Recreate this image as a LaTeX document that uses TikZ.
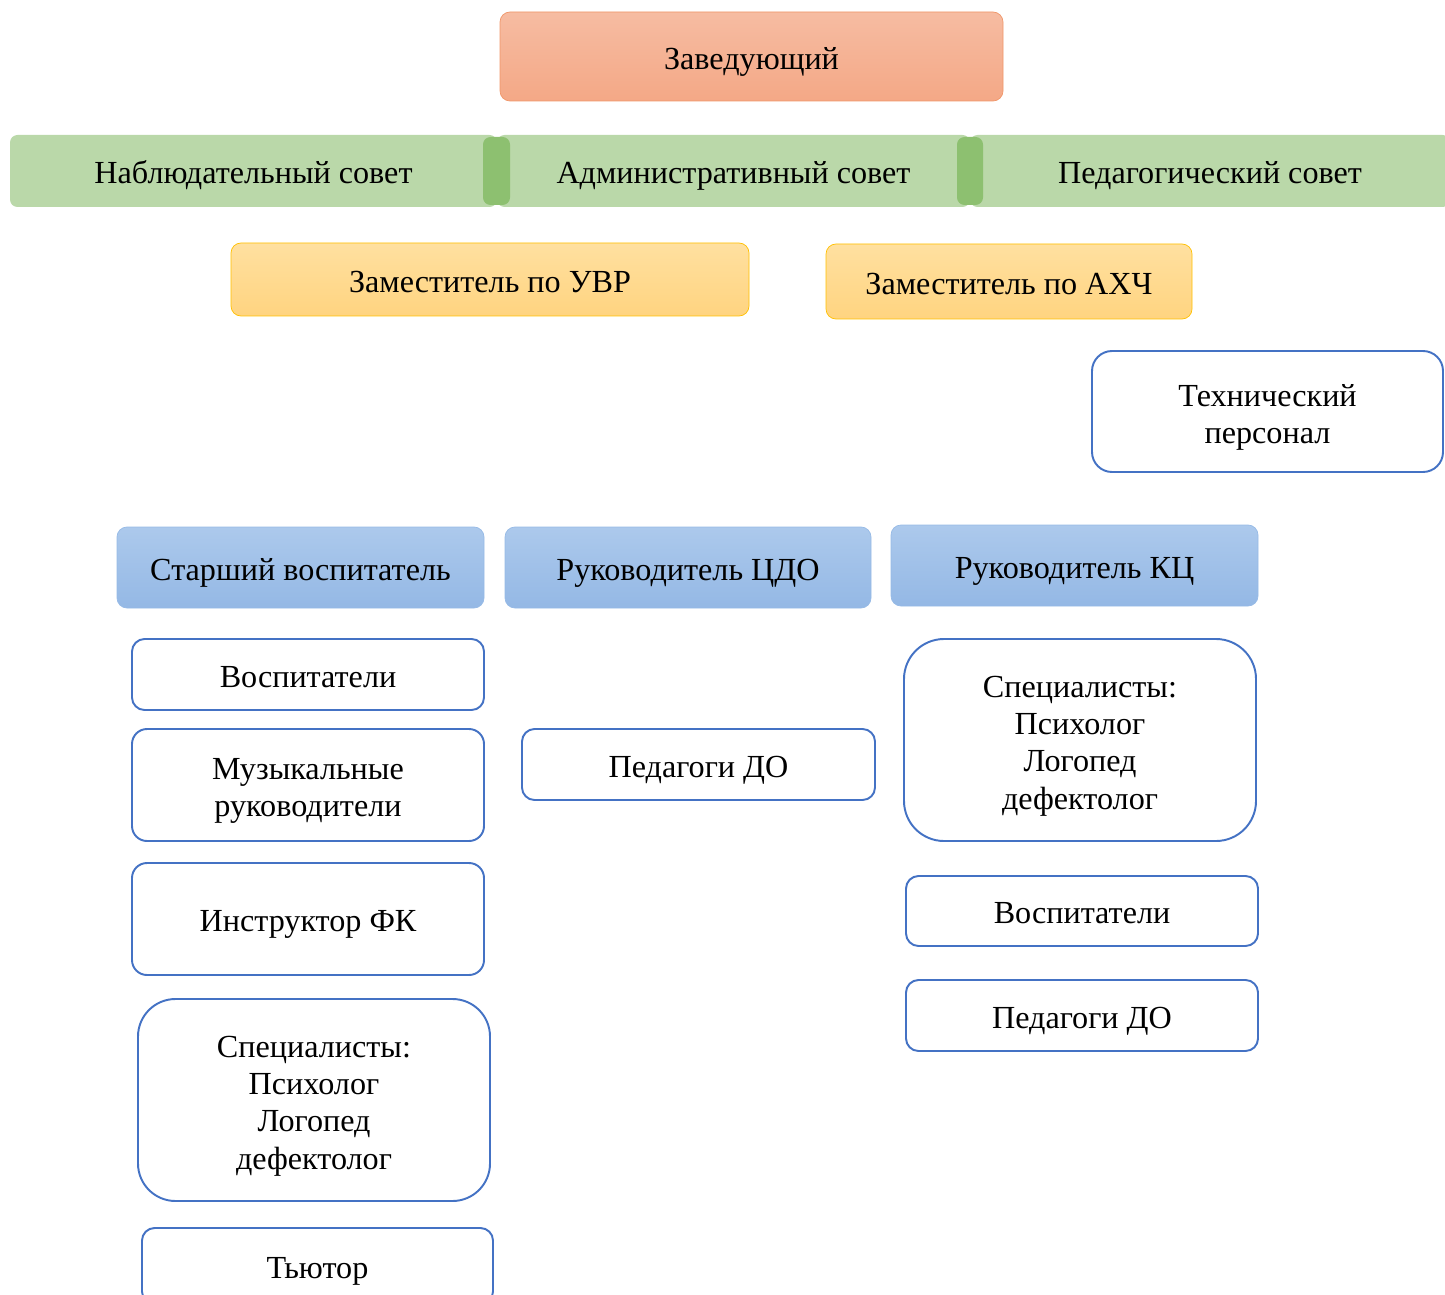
\documentclass[tikz,border=0pt]{standalone}
\usepackage{fontspec}
\setmainfont{Liberation Serif}
\usetikzlibrary{positioning}

\definecolor{zavfilltop}{RGB}{246,188,162}
\definecolor{zavfillbot}{RGB}{244,168,134}
\definecolor{zavline}{RGB}{240,150,105}
\definecolor{sovetfill}{RGB}{186,216,169}
\definecolor{sovetsep}{RGB}{141,192,112}
\definecolor{zamtop}{RGB}{255,224,160}
\definecolor{zambot}{RGB}{255,212,128}
\definecolor{zamline}{RGB}{255,192,0}
\definecolor{rukTop}{RGB}{172,201,236}
\definecolor{rukBot}{RGB}{148,184,229}
\definecolor{rukline}{RGB}{150,186,230}
\definecolor{staffline}{RGB}{68,114,196}

\begin{document}
\begin{tikzpicture}[
  every node/.style={font=\fontsize{18.3}{21.2}\selectfont,align=center,inner sep=0pt,
    execute at begin node={\rule{0pt}{1.04em}},execute at end node={\rule[-0.25em]{0pt}{0.25em}}},
  zav_box/.style={rectangle,rounded corners=0.2cm,top color=zavfilltop,bottom color=zavfillbot,draw=zavline,thin},
  sovet_part/.style={rectangle,rounded corners=0.15cm,fill=sovetfill,minimum height=1.44cm},
  sovet_sep/.style={rectangle,rounded corners=0.15cm,fill=sovetsep,minimum height=1.36cm},
  zam_box/.style={rectangle,rounded corners=0.2cm,top color=zamtop,bottom color=zambot,draw=zamline,thin},
  ruk_box/.style={rectangle,rounded corners=0.2cm,top color=rukTop,bottom color=rukBot,draw=rukline,thin,minimum height=1.62cm},
  staff_box/.style={rectangle,rounded corners=0.25cm,draw=staffline,line width=1.1pt,fill=white,minimum width=7.04cm},
  staff_text/.style={yshift=-0.13cm}
  ]
  \useasboundingbox (0,0) rectangle (28.9,-25.9);

%top
  \node (Zav) [zav_box,minimum width=10.06cm,minimum height=1.78cm] at(15.03,-1.13) {Заведующий};

%councils
  \node (Sovet_1) [sovet_part,minimum width=9.74cm] at(5.07,-3.42) {Наблюдательный совет};
  \node (Sovet_2) [sovet_part,minimum width=9.46cm] at(14.67,-3.42) {Административный совет};
  \node (Sovet_3) [sovet_part,minimum width=9.6cm] at(24.2,-3.42) {Педагогический совет};
  \node (Sovet_sep_1) [sovet_sep,minimum width=0.54cm] at(9.93,-3.42) {};
  \node (Sovet_sep_2) [sovet_sep,minimum width=0.52cm] at(19.4,-3.42) {};

%deputies
  \node (Zam_UVR) [zam_box,minimum width=10.36cm,minimum height=1.46cm] at(9.8,-5.59) {Заместитель по УВР};
  \node (Zam_AHCH) [zam_box,minimum width=7.32cm,minimum height=1.5cm] at(20.18,-5.63) {Заместитель по АХЧ};
  \node (Tech) [staff_box,rounded corners=0.4cm,minimum width=7.02cm,minimum height=2.42cm] at(25.35,-8.23) {};
  \node (Tech_text) [staff_text] at(Tech) {Технический\\персонал};

%heads
  \node (Ruk_1) [ruk_box,minimum width=7.34cm] at(6.01,-11.35) {Старший воспитатель};
  \node (Ruk_2) [ruk_box,minimum width=7.32cm] at(13.76,-11.35) {Руководитель ЦДО};
  \node (Ruk_3) [ruk_box,minimum width=7.34cm] at(21.49,-11.31) {Руководитель КЦ};

%staff 1
  \node (Staff_1_a) [staff_box,minimum height=1.42cm] at(6.16,-13.49) {Воспитатели};
  \node (Staff_1_b) [staff_box,rounded corners=0.3cm,minimum height=2.24cm] at(6.16,-15.7) {};
  \node (Staff_1_b_text) [staff_text] at(Staff_1_b) {Музыкальные\\руководители};
  \node (Staff_1_c) [staff_box,rounded corners=0.3cm,minimum height=2.24cm] at(6.16,-18.38) {Инструктор ФК};
  \node (Staff_1_d) [staff_box,rounded corners=0.75cm,minimum height=4.04cm] at(6.28,-22.0) {};
  \node (Staff_1_d_text) [staff_text] at(Staff_1_d) {Специалисты:\\Психолог\\Логопед\\дефектолог};
  \node (Staff_1_e) [staff_box,minimum width=7.02cm,minimum height=1.52cm] at(6.35,-25.32) {Тьютор};

%staff 2
  \node (Staff_2_a) [staff_box,minimum width=7.06cm,minimum height=1.42cm] at(13.97,-15.29) {Педагоги ДО};

%staff 3
  \node (Staff_3_a) [staff_box,rounded corners=0.8cm,minimum height=4.04cm] at(21.6,-14.8) {};
  \node (Staff_3_a_text) [staff_text] at(Staff_3_a) {Специалисты:\\Психолог\\Логопед\\дефектолог};
  \node (Staff_3_b) [staff_box,minimum height=1.4cm] at(21.64,-18.22) {Воспитатели};
  \node (Staff_3_c) [staff_box,minimum height=1.42cm] at(21.64,-20.31) {Педагоги ДО};

\end{tikzpicture}
\end{document}
